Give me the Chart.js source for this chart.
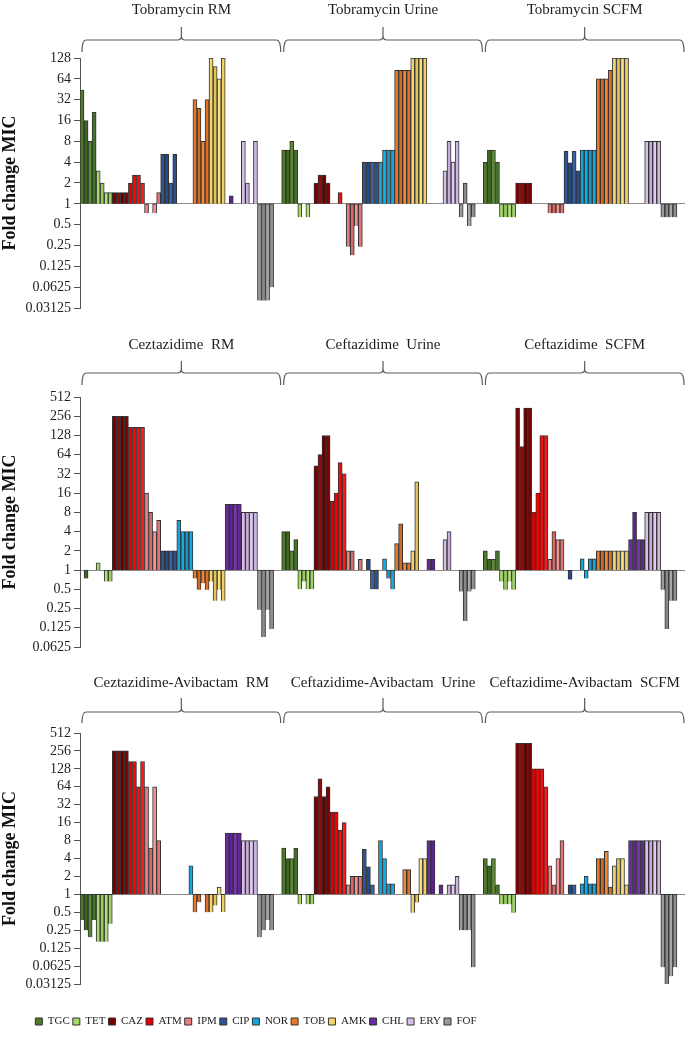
<!DOCTYPE html>
<html>
<head>
<meta charset="utf-8">
<script src="https://cdn.jsdelivr.net/npm/chart.js@4.4.1/dist/chart.umd.min.js"></script>
<style>
  body { margin: 0; background: #fff; }
  .wrap { position: relative; width: 691px; height: 1050px; }
  .wrap > div { position: absolute; left: 0; }
</style>
</head>
<body>
<div class="wrap">
  <div style="top:0;width:691px;height:330px"><canvas id="p1"></canvas></div>
  <div style="top:330px;width:691px;height:340px"><canvas id="p2"></canvas></div>
  <div style="top:670px;width:691px;height:335px"><canvas id="p3"></canvas></div>
  <div style="top:1013px;width:512px;height:37px"><canvas id="lg"></canvas></div>
</div>
<script>
const antibiotics = ['TGC', 'TET', 'CAZ', 'ATM', 'IPM', 'CIP', 'NOR', 'TOB', 'AMK', 'CHL', 'ERY', 'FOF']
const media = ['RM', 'Urine', 'SCFM']

// fold change MIC, 4 replicates per antibiotic (order = antibiotics)
const tobramycinRM = [[44,16,8,21],[3,2,1.45,1.45],[1.45,1.45,1.45,1.45],[2,2.6,2.6,2],[0.73,1,0.73,1.45],[5.2,5.2,2,5.2],
    [1,1,1,1],[32,24,8,32],[128,96,64,128],[1,1.3,1,1],[8,2,1,8],[0.04,0.04,0.04,0.0625]]
const tobramycinUrine = [[6,6,8,6],[0.64,1,0.64,1],[2,2.6,2.6,2],[1,1,1.45,1],[0.24,0.18,0.48,0.24],[4,4,4,4],
    [4,6,6,6],[85,85,85,85],[128,128,128,128],[1,1,1,1],[3,8,4,8],[0.64,2,0.48,0.64]]
const tobramycinSCFM = [[4,6,6,4],[0.64,0.64,0.64,0.64],[2,2,2,2],[1,1,1,1],[0.73,0.73,0.73,0.73],[5.8,3.9,5.8,3],
    [6,6,6,6],[64,64,64,85],[128,128,128,128],[1,1,1,1],[8,8,8,8],[0.64,0.64,0.64,0.64]]

const ceftazidimeRM = [[1,0.74,1,1],[1.3,1,0.66,0.66],[256,256,256,256],[172,172,172,172],[16,8,4,6],[2,2,2,2],
    [6,4,4,4],[0.74,0.49,0.62,0.49],[0.66,0.33,0.49,0.33],[10.7,10.7,10.7,10.7],[8,8,8,8],[0.24,0.09,0.24,0.12]]
const ceftazidimeUrine = [[4,4,2,3],[0.5,0.66,0.5,0.5],[43,64,128,128],[12,16,48,32],[2,2,1,1.47],[1,1.47,0.5,0.5],
    [1,1.5,0.74,0.5],[2.6,5.3,1.3,1.3],[2,24,1,1],[1.47,1.47,1,1],[3,4,1,1],[0.46,0.16,0.46,0.5]]
const ceftazidimeSCFM = [[2,1.47,1.47,2],[0.66,0.49,0.66,0.49],[342,86,342,342],[8,16,128,128],[1.47,4,3,3],[1,0.71,1,1],
    [1.5,0.74,1.5,1.5],[2,2,2,2],[2,2,2,2],[3,8,3,3],[8,8,8,8],[0.49,0.12,0.33,0.33]]

const cazAviRM = [[0.37,0.25,0.19,0.37],[0.16,0.16,0.16,0.32],[256,256,256,256],[170,170,64,170],[64,6,64,8],[1,1,1,1],
    [1,1,1,3],[0.5,0.74,1,0.5],[0.5,0.65,1.33,0.5],[10.7,10.7,10.7,10.7],[8,8,8,8],[0.19,0.25,0.37,0.25]]
const cazAviUrine = [[6,4,4,6],[0.68,1,0.68,0.68],[44,87,44,64],[24,24,12,16],[1.45,2,2,2],[5.7,2.9,1.45,1],
    [8,4,1.5,1.5],[1,1,2.6,2.6],[0.49,0.73,4,4],[8,8,1,1.45],[1,1.45,1.45,2],[0.25,0.25,0.25,0.06]]
const cazAviSCFM = [[4,3,4,1.45],[0.68,0.68,0.68,0.49],[342,342,342,342],[128,128,128,64],[3,1.45,4,8],[1,1.45,1.45,1],
    [1.5,2,1.5,1.5],[4,4,5.3,1.33],[3,4,4,1.45],[8,8,8,8],[8,8,8,8],[0.06,0.03125,0.042,0.06]]

const tickValues = [0.03125, 0.0625, 0.125, 0.25, 0.5, 1, 2, 4, 8, 16, 32, 64, 128, 256, 512]

// colores por antibiotico (4 tonos, uno por replica)
const shades = [
    ['#4e7a2a','#3d6620','#5b8a34','#46722a'],
    ['#a6d96a','#98cc5e','#b4e07c','#a0d468'],
    ['#7a0000','#8e0c0c','#660000','#800000'],
    ['#e00000','#ff0000','#f01010','#ff1a1a'],
    ['#e88080','#d46a6a','#f29494','#e57373'],
    ['#2e5599','#254a8a','#3763ab','#2b5090'],
    ['#18a4da','#06b2ea','#2094c6','#14a8e0'],
    ['#e8782a','#d26a20','#f08a3a','#e07025'],
    ['#f3d56c','#e4c458','#f8e082','#efcf66'],
    ['#6a2ca0','#5c2490','#7636ae','#642898'],
    ['#d6bee6','#c6acda','#e2ccf0','#cfb6e2'],
    ['#9a9a9a','#8a8a8a','#a8a8a8','#919191']
]

const GROUP = 50  // 48 barras + 2 de separacion
const slotLabels = []
media.forEach(m => {
    antibiotics.forEach(ab => { for (let r = 1; r <= 4; r++) slotLabels.push(m + ' ' + ab + ' ' + r) })
    slotLabels.push('', '')
})

/*********************************************
*   llaves y titulos sobre cada grupo
**********************************************/
const bracePlugin = {
    id: 'braces',
    afterDraw(chart, args, o) {
        const ctx = chart.ctx
        const x = chart.scales.x
        const w = x.width / slotLabels.length
        ctx.save()
        ctx.strokeStyle = '#5a5a5a'
        ctx.lineWidth = 1.2
        o.titles.forEach((t, g) => {
            const x0 = x.left + g * GROUP * w + 2
            const x1 = x.left + (g + 1) * GROUP * w - 1
            const xm = (x0 + x1) / 2
            const r = 4
            ctx.beginPath()
            ctx.moveTo(x0, o.yEnd)
            ctx.quadraticCurveTo(x0, o.yLine, x0 + r, o.yLine)
            ctx.lineTo(xm - r, o.yLine)
            ctx.quadraticCurveTo(xm, o.yLine, xm, o.yLine - r)
            ctx.lineTo(xm, o.yPeak)
            ctx.moveTo(xm, o.yLine - r)
            ctx.quadraticCurveTo(xm, o.yLine, xm + r, o.yLine)
            ctx.lineTo(x1 - r, o.yLine)
            ctx.quadraticCurveTo(x1, o.yLine, x1, o.yEnd)
            ctx.stroke()
            ctx.fillStyle = '#1e1e1e'
            ctx.font = '15px "Liberation Serif"'
            ctx.textAlign = 'center'
            ctx.textBaseline = 'middle'
            ctx.fillText(t, xm, o.yTitle)
        })
        ctx.restore()
    }
}

function buildDatasets(groups) {
    return antibiotics.map((ab, a) => {
        const data = new Array(slotLabels.length).fill(null)
        groups.forEach((g, gi) => g[a].forEach((v, r) => {
            if (v !== 1) data[gi * GROUP + a * 4 + r] = [1, v]
        }))
        return {
            label: ab,
            data,
            backgroundColor: c => shades[a][c.dataIndex % GROUP % 4],
            borderColor: '#333',
            borderWidth: 1,
            barPercentage: 1,
            categoryPercentage: 1,
            grouped: false
        }
    })
}

function panel(id, groups, min, max, titles, pad, braces) {
    new Chart(document.getElementById(id), {
        type: 'bar',
        data: { labels: slotLabels, datasets: buildDatasets(groups) },
        options: {
            responsive: true,
            maintainAspectRatio: false,
            animation: false,
            layout: { padding: { left: 0, right: 6, top: pad[0], bottom: pad[1] } },
            scales: {
                x: { display: false },
                y: {
                    type: 'logarithmic',
                    min: min,
                    max: max,
                    afterBuildTicks: s => { s.ticks = tickValues.filter(v => v >= min && v <= max).map(v => ({ value: v })) },
                    afterFit: s => { s.width = 80 },
                    ticks: {
                        autoSkip: false,
                        padding: 3,
                        color: '#1e1e1e',
                        font: { family: 'Liberation Serif', size: 14 },
                        callback: v => String(v)
                    },
                    grid: {
                        color: c => (c.tick && c.tick.value === 1) ? '#8a8a8a' : 'rgba(0,0,0,0)',
                        tickColor: '#555',
                        tickLength: 6
                    },
                    border: { color: '#555' },
                    title: {
                        display: true,
                        text: 'Fold change MIC',
                        color: '#111',
                        padding: 0,
                        font: { family: 'Liberation Serif', size: 18, weight: 'bold' }
                    }
                }
            },
            plugins: {
                legend: { display: false },
                tooltip: { enabled: false },
                braces: Object.assign({ titles }, braces)
            }
        },
        plugins: [bracePlugin]
    })
}

panel('p1', [tobramycinRM, tobramycinUrine, tobramycinSCFM], 0.03125, 128,
    ['Tobramycin RM', 'Tobramycin Urine', 'Tobramycin SCFM'], [58, 22],
    { yTitle: 10, yPeak: 27, yLine: 40, yEnd: 52 })

panel('p2', [ceftazidimeRM, ceftazidimeUrine, ceftazidimeSCFM], 0.0625, 512,
    ['Ceztazidime  RM', 'Ceftazidime  Urine', 'Ceftazidime  SCFM'], [67, 23],
    { yTitle: 15, yPeak: 31, yLine: 43, yEnd: 55 })

panel('p3', [cazAviRM, cazAviUrine, cazAviSCFM], 0.03125, 512,
    ['Ceztazidime-Avibactam  RM', 'Ceftazidime-Avibactam  Urine', 'Ceftazidime-Avibactam  SCFM'], [63, 21],
    { yTitle: 13, yPeak: 28, yLine: 42, yEnd: 53 })

// leyenda comun
new Chart(document.getElementById('lg'), {
    type: 'bar',
    data: {
        labels: [],
        datasets: antibiotics.map((ab, a) => ({
            label: ab, data: [], backgroundColor: shades[a][0], borderColor: '#333', borderWidth: 1
        }))
    },
    options: {
        responsive: true,
        maintainAspectRatio: false,
        animation: false,
        scales: { x: { display: false }, y: { display: false } },
        plugins: {
            tooltip: { enabled: false },
            legend: {
                position: 'top',
                labels: {
                    boxWidth: 7, boxHeight: 7, padding: 3, color: '#222',
                    font: { family: 'Liberation Serif', size: 11 }
                }
            }
        }
    }
})
</script>
</body>
</html>
